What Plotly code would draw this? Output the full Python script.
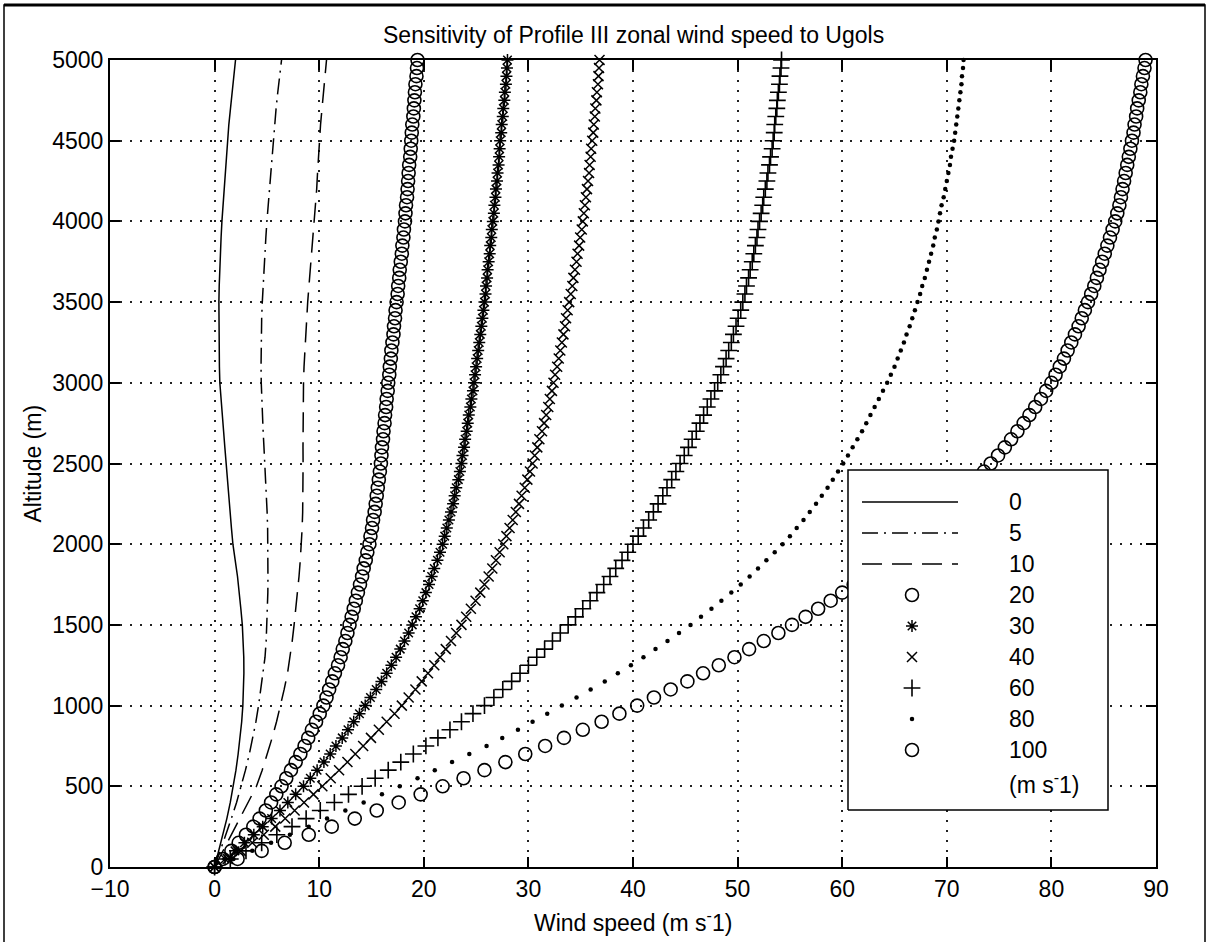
import plotly.graph_objects as go

# Altitude grids (m): markers every 50 m, line profiles every 100 m
alt_50 = list(range(0, 5001, 50))
alt_100 = list(range(0, 5001, 100))

# Zonal wind speed (m s-1) for each Ugols value
u_0 = [0.0, 0.4, 0.8, 1.17, 1.5, 1.8, 2.04, 2.25, 2.44, 2.59,
       2.7, 2.77, 2.8, 2.79, 2.74, 2.65, 2.51, 2.37, 2.19, 1.97,
       1.75, 1.61, 1.47, 1.34, 1.22, 1.1, 0.98, 0.86, 0.74, 0.62,
       0.5, 0.46, 0.43, 0.41, 0.41, 0.41, 0.44, 0.48, 0.54, 0.62,
       0.7, 0.8, 0.9, 1.0, 1.1, 1.2, 1.36, 1.52, 1.68, 1.84, 2.0]

u_5 = [0.0, 0.55, 1.1, 1.6, 2.1, 2.55, 2.95, 3.32, 3.65, 3.95,
       4.2, 4.43, 4.65, 4.82, 4.93, 5.0, 5.05, 5.09, 5.1, 5.1,
       5.1, 5.07, 5.02, 4.96, 4.88, 4.8, 4.72, 4.64, 4.57, 4.5,
       4.46, 4.44, 4.44, 4.46, 4.5, 4.56, 4.63, 4.71, 4.8, 4.9,
       5.0, 5.12, 5.24, 5.36, 5.48, 5.6, 5.74, 5.88, 6.04, 6.22, 6.4]

u_10 = [0.0, 0.8, 1.6, 2.4, 3.2, 4.0, 4.55, 5.05, 5.5, 5.92,
        6.3, 6.65, 6.97, 7.22, 7.42, 7.6, 7.77, 7.93, 8.07, 8.19,
        8.3, 8.37, 8.42, 8.45, 8.46, 8.46, 8.45, 8.45, 8.46, 8.48,
        8.5, 8.55, 8.62, 8.7, 8.8, 8.9, 9.02, 9.14, 9.28, 9.42,
        9.56, 9.66, 9.76, 9.84, 9.92, 10.0, 10.13, 10.27, 10.42, 10.56, 10.7]

u_20 = [0, 0.8, 1.6, 2.3, 3.0, 3.7, 4.3, 4.9, 5.4, 5.9,
        6.4, 6.85, 7.3, 7.75, 8.2, 8.6, 8.95, 9.3, 9.7, 10.05,
        10.4, 10.7, 10.95, 11.25, 11.5, 11.8, 12.05, 12.25, 12.5, 12.7,
        12.9, 13.1, 13.3, 13.5, 13.7, 13.9, 14.1, 14.25, 14.45, 14.6,
        14.8, 14.9, 15.05, 15.15, 15.3, 15.4, 15.5, 15.6, 15.7, 15.8,
        15.9, 15.95, 16.0, 16.1, 16.15, 16.25, 16.3, 16.4, 16.45, 16.55,
        16.6, 16.7, 16.75, 16.85, 16.9, 17.0, 17.1, 17.15, 17.25, 17.3,
        17.4, 17.5, 17.55, 17.65, 17.7, 17.8, 17.9, 17.95, 18.05, 18.1,
        18.2, 18.25, 18.3, 18.4, 18.45, 18.5, 18.55, 18.6, 18.7, 18.75,
        18.8, 18.85, 18.9, 19.0, 19.05, 19.1, 19.15, 19.2, 19.3, 19.35,
        19.4]

u_30 = [0, 1.0, 1.95, 2.85, 3.75, 4.6, 5.45, 6.25, 7.0, 7.75,
        8.5, 9.15, 9.8, 10.45, 11.05, 11.6, 12.2, 12.75, 13.3, 13.85,
        14.4, 14.9, 15.45, 15.95, 16.45, 16.9, 17.35, 17.75, 18.15, 18.55,
        18.9, 19.25, 19.6, 19.9, 20.2, 20.5, 20.75, 21.0, 21.3, 21.55,
        21.8, 22.0, 22.2, 22.4, 22.6, 22.8, 22.95, 23.1, 23.3, 23.45,
        23.6, 23.7, 23.85, 23.95, 24.1, 24.2, 24.3, 24.45, 24.55, 24.7,
        24.8, 24.9, 25.0, 25.1, 25.2, 25.3, 25.4, 25.5, 25.6, 25.7,
        25.8, 25.9, 25.95, 26.05, 26.1, 26.2, 26.3, 26.35, 26.45, 26.5,
        26.6, 26.7, 26.75, 26.85, 26.9, 27.0, 27.05, 27.15, 27.2, 27.25,
        27.3, 27.4, 27.45, 27.55, 27.6, 27.7, 27.75, 27.85, 27.9, 27.95,
        28.0]

u_40 = [0, 1.25, 2.5, 3.6, 4.7, 5.8, 6.75, 7.65, 8.55, 9.45,
        10.3, 11.1, 11.9, 12.7, 13.45, 14.2, 14.95, 15.7, 16.45, 17.2,
        17.9, 18.55, 19.2, 19.8, 20.4, 21.0, 21.55, 22.1, 22.6, 23.1,
        23.6, 24.05, 24.5, 24.95, 25.4, 25.8, 26.2, 26.55, 26.9, 27.25,
        27.6, 27.9, 28.2, 28.5, 28.8, 29.1, 29.35, 29.65, 29.9, 30.15,
        30.4, 30.6, 30.85, 31.05, 31.3, 31.5, 31.7, 31.9, 32.05, 32.25,
        32.4, 32.55, 32.75, 32.9, 33.05, 33.2, 33.35, 33.5, 33.6, 33.75,
        33.9, 34.05, 34.2, 34.3, 34.45, 34.6, 34.7, 34.85, 34.95, 35.1,
        35.2, 35.3, 35.4, 35.5, 35.6, 35.7, 35.8, 35.85, 35.95, 36.0,
        36.1, 36.2, 36.25, 36.35, 36.4, 36.5, 36.55, 36.65, 36.7, 36.75,
        36.8]

u_60 = [0, 1.5, 3.0, 4.5, 5.95, 7.4, 8.75, 10.1, 11.45, 12.8,
        14.1, 15.35, 16.6, 17.8, 19.0, 20.2, 21.35, 22.5, 23.6, 24.7,
        25.8, 26.7, 27.55, 28.4, 29.2, 30.0, 30.8, 31.55, 32.3, 33.05,
        33.8, 34.5, 35.2, 35.9, 36.55, 37.2, 37.8, 38.35, 38.95, 39.5,
        40.0, 40.5, 41.0, 41.5, 41.95, 42.4, 42.85, 43.25, 43.7, 44.1,
        44.5, 44.9, 45.3, 45.65, 46.05, 46.4, 46.75, 47.1, 47.45, 47.8,
        48.1, 48.4, 48.65, 48.9, 49.15, 49.4, 49.6, 49.85, 50.05, 50.3,
        50.5, 50.7, 50.85, 51.05, 51.2, 51.4, 51.55, 51.7, 51.85, 51.95,
        52.1, 52.25, 52.4, 52.5, 52.65, 52.8, 52.9, 53.05, 53.15, 53.3,
        53.4, 53.5, 53.55, 53.65, 53.75, 53.8, 53.9, 54.0, 54.05, 54.15,
        54.2]

u_80 = [0, 1.8, 3.6, 5.4, 7.2, 9.0, 10.75, 12.5, 14.25, 16.0,
        17.7, 19.4, 21.05, 22.7, 24.35, 26.0, 27.5, 29.0, 30.4, 31.8,
        33.2, 34.6, 35.95, 37.3, 38.55, 39.8, 41.0, 42.15, 43.3, 44.4,
        45.5, 46.5, 47.5, 48.45, 49.4, 50.3, 51.15, 51.95, 52.75, 53.55,
        54.3, 55.0, 55.65, 56.3, 56.9, 57.5, 58.05, 58.6, 59.1, 59.6,
        60.1, 60.55, 61.0, 61.45, 61.9, 62.3, 62.7, 63.1, 63.5, 63.9,
        64.3, 64.65, 65.0, 65.3, 65.6, 65.9, 66.15, 66.45, 66.7, 66.95,
        67.2, 67.45, 67.65, 67.9, 68.1, 68.3, 68.5, 68.7, 68.85, 69.05,
        69.2, 69.35, 69.5, 69.7, 69.85, 70.0, 70.15, 70.3, 70.4, 70.55,
        70.7, 70.8, 70.9, 71.0, 71.1, 71.2, 71.3, 71.4, 71.45, 71.55,
        71.6]

u_100 = [0, 2.2, 4.5, 6.7, 9.0, 11.2, 13.4, 15.5, 17.6, 19.7,
         21.8, 23.8, 25.8, 27.8, 29.7, 31.6, 33.4, 35.2, 37.0, 38.7,
         40.4, 42.0, 43.6, 45.2, 46.7, 48.2, 49.7, 51.1, 52.5, 53.9,
         55.2, 56.5, 57.7, 58.9, 60.0, 61.1, 62.2, 63.3, 64.4, 65.5,
         66.5, 67.4, 68.3, 69.1, 69.9, 70.7, 71.45, 72.2, 72.85, 73.55,
         74.2, 74.9, 75.55, 76.15, 76.75, 77.35, 77.9, 78.45, 79.0, 79.5,
         80.0, 80.4, 80.8, 81.2, 81.55, 81.9, 82.25, 82.6, 82.9, 83.2,
         83.5, 83.8, 84.1, 84.35, 84.6, 84.85, 85.1, 85.35, 85.6, 85.85,
         86.1, 86.3, 86.5, 86.65, 86.8, 86.95, 87.1, 87.25, 87.4, 87.55,
         87.7, 87.85, 87.95, 88.1, 88.2, 88.35, 88.5, 88.6, 88.75, 88.9,
         89.0]

labels = ["0", "5", "10", "20", "30", "40", "60", "80", "100"]
units_label = "(m s<sup>-</sup>1)"

x_ticks = list(range(-10, 91, 10))
y_ticks = list(range(0, 5001, 500))

FONT = "Liberation Sans, Arial, Helvetica, sans-serif"
INK = "black"

# Pixel geometry of the axes box inside the 1207x942 canvas
W, H = 1207, 942
L, R, T, B = 110, 1156, 60, 867


def fx(px):
    return (px - L) / (R - L)


def fy(py):
    return (B - py) / (B - T)


# Per-series drawing style
series = [
    (alt_100, u_0, dict(mode="lines", line=dict(color=INK, width=1.5))),
    (alt_100, u_5, dict(mode="lines", line=dict(color=INK, width=1.5, dash="16px,6px,2px,6px"))),
    (alt_100, u_10, dict(mode="lines", line=dict(color=INK, width=1.5, dash="20px,10px"))),
    (alt_50, u_20, dict(mode="markers", marker=dict(symbol="circle-open", size=13, color=INK, line=dict(width=1.6)))),
    (alt_50, u_30, dict(mode="markers", marker=dict(symbol="asterisk-open", size=10, color=INK, line=dict(width=1.5)))),
    (alt_50, u_40, dict(mode="markers", marker=dict(symbol="x-thin-open", size=10, color=INK, line=dict(width=1.5)))),
    (alt_50, u_60, dict(mode="markers", marker=dict(symbol="cross-thin-open", size=12, color=INK, line=dict(width=1.6)))),
    (alt_50, u_80, dict(mode="markers", marker=dict(symbol="circle", size=4.5, color=INK, line=dict(width=0)))),
    (alt_50, u_100, dict(mode="markers", marker=dict(symbol="circle-open", size=13, color=INK, line=dict(width=1.6)))),
]

fig = go.Figure()
for (alt, u, style), name in zip(series, labels):
    fig.add_trace(go.Scatter(x=u, y=alt, name=name, showlegend=False,
                             cliponaxis=False, hoverinfo="skip", **style))

# Legend panel drawn on an overlay axis pair spanning the plot area (0..1)
box_l, box_r, box_t, box_b = 848, 1108, 470, 810
fig.add_trace(go.Scatter(
    x=[fx(box_l), fx(box_r), fx(box_r), fx(box_l), fx(box_l)],
    y=[fy(box_b), fy(box_b), fy(box_t), fy(box_t), fy(box_b)],
    mode="lines", fill="toself", fillcolor="white",
    line=dict(color=INK, width=1.5), xaxis="x2", yaxis="y2",
    showlegend=False, hoverinfo="skip"))

row_y = [502, 533, 564, 595, 626, 657, 688, 719, 750]
sample_l, sample_r, sample_c = 862, 958, 912
text_x = 1007
annotations = []
for (alt, u, style), name, py in zip(series, labels, row_y):
    if style["mode"] == "lines":
        fig.add_trace(go.Scatter(x=[fx(sample_l), fx(sample_r)], y=[fy(py), fy(py)],
                                 xaxis="x2", yaxis="y2", showlegend=False,
                                 hoverinfo="skip", **style))
    else:
        fig.add_trace(go.Scatter(x=[fx(sample_c)], y=[fy(py)],
                                 xaxis="x2", yaxis="y2", showlegend=False,
                                 hoverinfo="skip", **style))
    annotations.append(dict(x=fx(text_x), y=fy(py), xref="paper", yref="paper",
                            text=name, showarrow=False, xanchor="left", yanchor="middle",
                            font=dict(size=23, color=INK, family=FONT)))
annotations.append(dict(x=fx(text_x), y=fy(783), xref="paper", yref="paper",
                        text=units_label, showarrow=False, xanchor="left", yanchor="middle",
                        font=dict(size=23, color=INK, family=FONT)))

# Axis titles and plot title
annotations.append(dict(x=0.5, y=fy(921), xref="paper", yref="paper",
                        text="Wind speed (m s<sup>-</sup>1)", showarrow=False,
                        xanchor="center", yanchor="middle",
                        font=dict(size=23, color=INK, family=FONT)))
annotations.append(dict(x=fx(32), y=0.5, xref="paper", yref="paper",
                        text="Altitude (m)", showarrow=False, textangle=-90,
                        xanchor="center", yanchor="middle",
                        font=dict(size=23, color=INK, family=FONT)))
annotations.append(dict(x=0.5, y=fy(35), xref="paper", yref="paper",
                        text="Sensitivity of Profile III zonal wind speed to Ugols",
                        showarrow=False, xanchor="center", yanchor="middle",
                        font=dict(size=23, color=INK, family=FONT)))

axis_common = dict(
    showline=True, linecolor=INK, linewidth=2, mirror="ticks",
    ticks="inside", ticklen=10, tickwidth=1.5, tickcolor=INK,
    showgrid=True, gridcolor="#222222", gridwidth=1.5, griddash="1.5px,8.5px",
    zeroline=False, tickfont=dict(size=23, color=INK, family=FONT),
)

# Outer figure frame: thin sides, heavier top edge
frame = [
    dict(type="rect", xref="paper", yref="paper",
         x0=fx(4), x1=fx(1205), y0=fy(960), y1=fy(5),
         line=dict(color=INK, width=1.5), fillcolor="rgba(0,0,0,0)"),
    dict(type="line", xref="paper", yref="paper",
         x0=fx(4), x1=fx(1205), y0=fy(5), y1=fy(5),
         line=dict(color=INK, width=3)),
]

fig.update_layout(
    width=W, height=H,
    margin=dict(l=L, r=W - R, t=T, b=H - B),
    paper_bgcolor="white", plot_bgcolor="white",
    font=dict(family=FONT, color=INK),
    xaxis=dict(range=[-10, 90], tickvals=x_ticks, **axis_common),
    yaxis=dict(range=[0, 5000], tickvals=y_ticks, **axis_common),
    xaxis2=dict(range=[0, 1], overlaying="x", visible=False),
    yaxis2=dict(range=[0, 1], overlaying="y", visible=False),
    annotations=annotations,
    shapes=frame,
)

fig.write_html("out.html")
